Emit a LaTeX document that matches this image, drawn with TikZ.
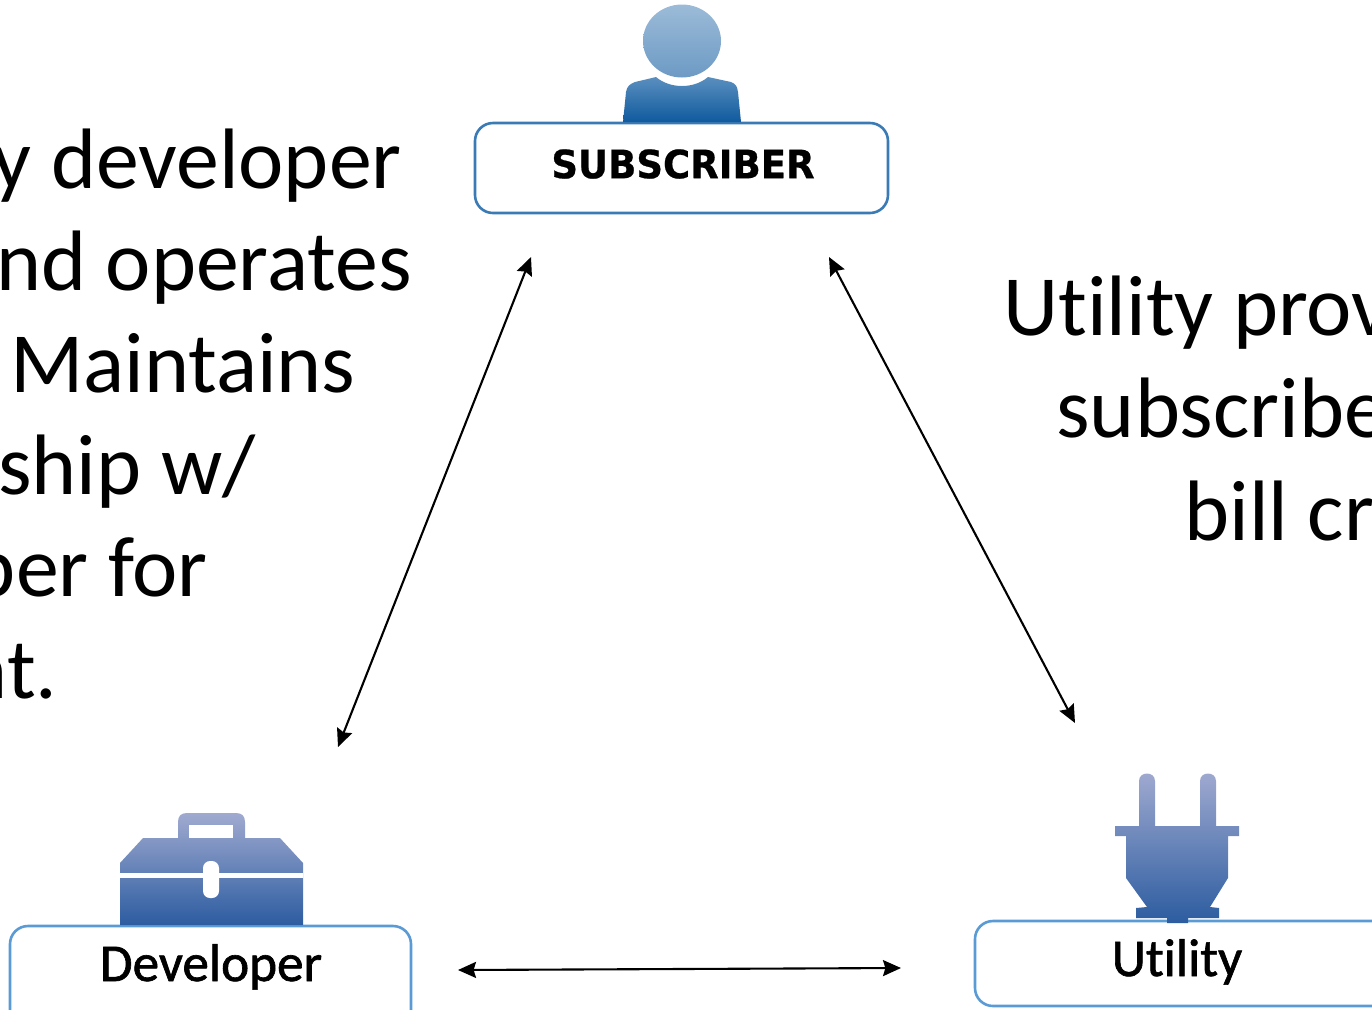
\documentclass[tikz,border=0pt]{standalone}
\usepackage{fontspec}
\setmainfont{Carlito}[Ligatures=NoCommon]
\newfontfamily\labelfont{DejaVu Sans}[FakeStretch=0.95, FakeBold=0.6]
\newfontfamily\boxfont{Carlito}[Ligatures=NoCommon, FakeBold=1.2]
\usetikzlibrary{arrows.meta}
\definecolor{boxblue}{HTML}{5B9BD5}
\definecolor{subblue}{HTML}{3A7AB5}
\definecolor{iconlight}{HTML}{A0AAD0}
\definecolor{icondark}{HTML}{2C5CA0}
\definecolor{headtop}{HTML}{9CBBD8}
\definecolor{headlow}{HTML}{6C9AC4}
\definecolor{bodytop}{HTML}{5A8FBE}
\definecolor{bodylow}{HTML}{0F5A9E}
\tikzset{
  bigtext/.style={font=\fontsize{42.9}{50}\selectfont, inner sep=0pt, text=black},
  boxtext/.style={font=\boxfont\fontsize{26.6}{30}\selectfont, inner sep=0pt, anchor=base},
  actorbox/.style={draw=boxblue, line width=1.3pt, rounded corners=9pt, fill=white},
  link/.style={{Stealth[length=9pt,width=8pt,inset=1.2pt]}-{Stealth[length=9pt,width=8pt,inset=1.2pt]}, line width=1.05pt},
  iconfill/.style={top color=iconlight, bottom color=icondark}
}
\begin{document}
\begin{tikzpicture}[x=0.5pt, y=-0.5pt]
    \useasboundingbox (0,0) rectangle (1372,1009);
    \clip (0,0) rectangle (1372,1009);
    % boxes
    \draw[actorbox, draw=subblue] (475,123) rectangle (888,213);
    \draw[actorbox] (10,926) rectangle (411,1040);
    \draw[actorbox] (975,921) rectangle (1400,1006);
    % subscriber icon
    \shade[top color=headtop, bottom color=headlow] (682,41) ellipse (39 and 36.5);
    \shade[top color=bodytop, bottom color=bodylow]
      (623,122) -- (626,92) .. controls (627,86) and (630,84) .. (635,82)
      -- (656,77) .. controls (670,89) and (694,89) .. (708,77)
      -- (731,82) .. controls (736,84) and (737,86) .. (738,92) -- (741,122) -- cycle;
    % toolbox icon
    \shade[iconfill]
      (120,925) -- (120,863) -- (143,838) -- (178,838) -- (178,822)
      .. controls (178,816) and (181,813) .. (187,813) -- (236,813)
      .. controls (242,813) and (245,816) .. (245,822) -- (245,838)
      -- (280,838) -- (303,863) -- (303,925) -- cycle;
    \fill[white] (189,825) rectangle (233,838);
    \fill[white] (120,873) rectangle (303,878);
    \fill[white, rounded corners=3.5pt] (203,861) rectangle (219,898);
    % plug icon
    \shade[iconfill]
      (1139,826) -- (1139,781) .. controls (1139,771) and (1155,771) .. (1155,781)
      -- (1155,826) -- (1200,826) -- (1200,781) .. controls (1200,771) and (1216,771) .. (1216,781)
      -- (1216,826) -- (1239,826) -- (1239,836) -- (1228,836) -- (1228,878) -- (1210,907)
      -- (1219,908) -- (1219,918) -- (1188,918) -- (1188,923) -- (1167,923) -- (1167,918)
      -- (1136,918) -- (1136,908) -- (1147,907) -- (1126,878) -- (1126,836) -- (1115,836)
      -- (1115,826) -- cycle;
    % labels
    \node[font=\labelfont\bfseries\fontsize{19.5}{22}\selectfont, inner sep=0pt] (subscriber) at (683,164) {SUBSCRIBER};
    \node[boxtext] (developer) at (211,981) {Developer};
    \node[boxtext] (utility) at (1177,976) {Utility};
    % left text, ends at the right
    \foreach \i/\x/\y/\txt in {1/402/188/{y developer}, 2/412/290/{nd operates}, 3/356/392/{Maintains},
                               4/256/494/{ship w/}, 5/208/596/{per for}, 6/58/698/{nt.}} {
      \node[bigtext, anchor=base east] (left\i) at (\x,\y) {\txt};
    }
    % right text, starts at the left
    \foreach \i/\x/\y/\txt in {1/1003/335/{Utility prov}, 2/1056/437/{subscribe}, 3/1184/540/{bill cr}} {
      \node[bigtext, anchor=base west] (right\i) at (\x,\y) {\txt};
    }
    % connectors
    \coordinate (subL) at (531,257);
    \coordinate (subR) at (829,257);
    \coordinate (devT) at (338,747);
    \coordinate (devR) at (458,970);
    \coordinate (utiT) at (1075,723);
    \coordinate (utiL) at (901,968);
    \draw[link] (subL) -- (devT);
    \draw[link] (subR) -- (utiT);
    \draw[link] (devR) -- (utiL);
  \end{tikzpicture}
\end{document}
